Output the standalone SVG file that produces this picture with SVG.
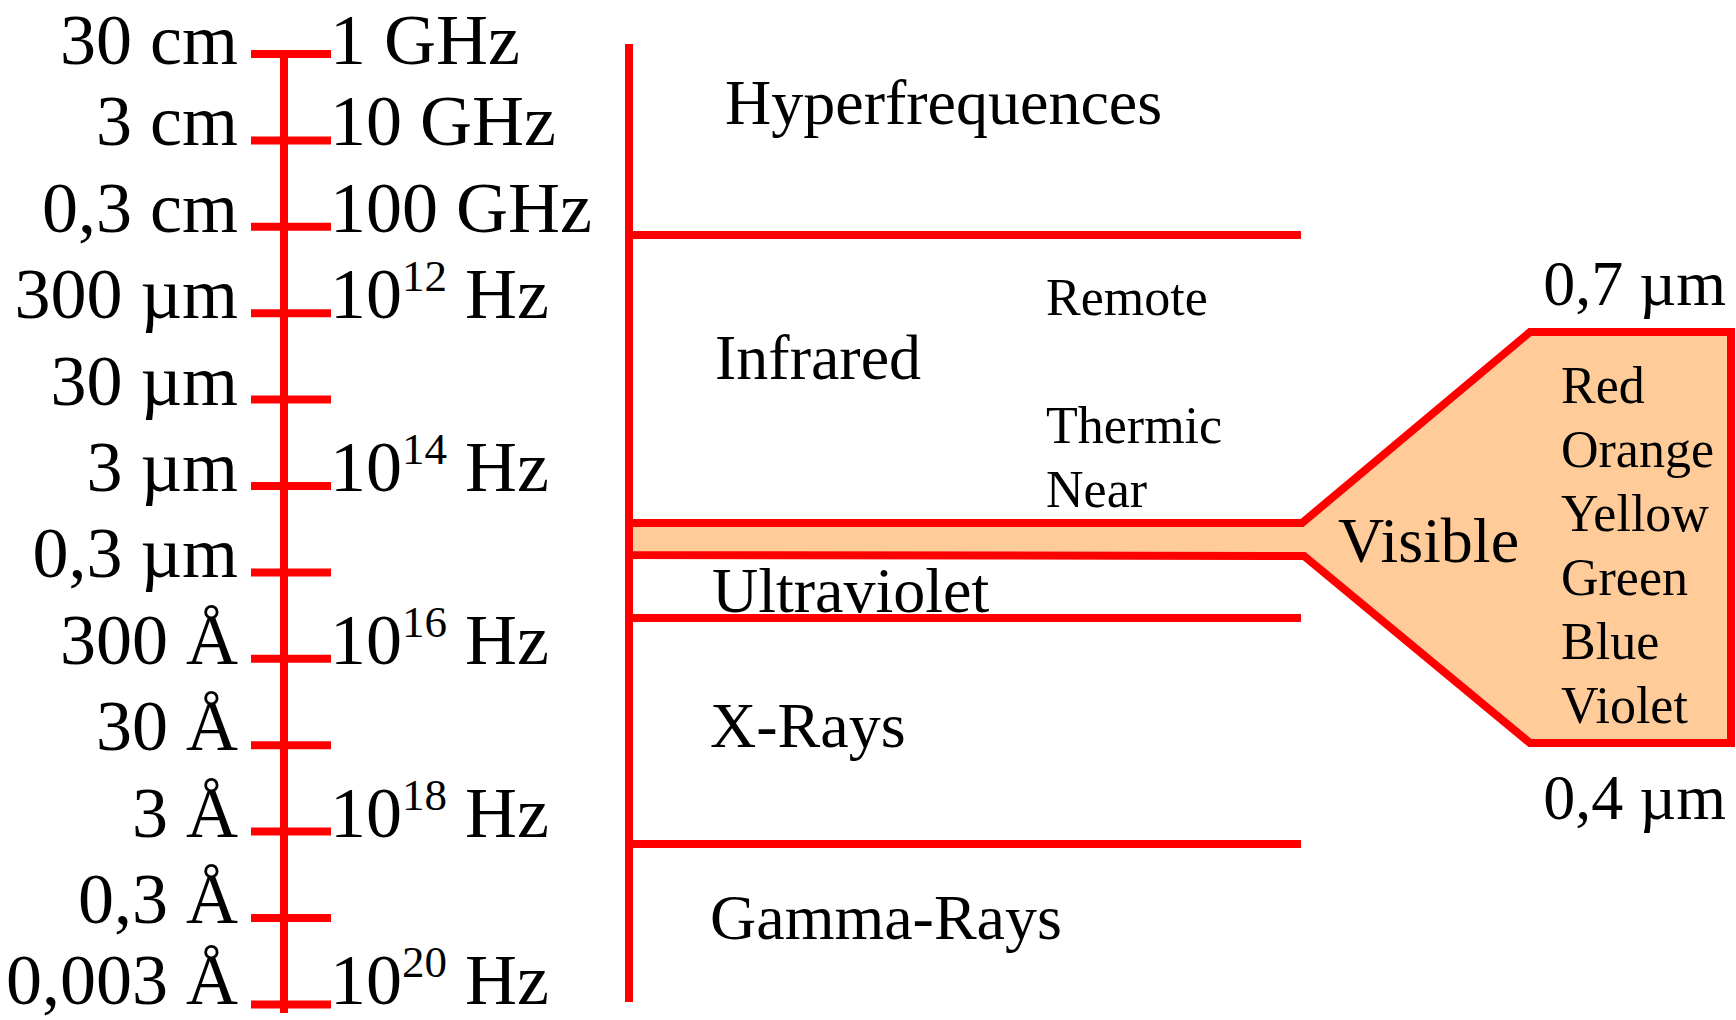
<svg xmlns="http://www.w3.org/2000/svg" width="1736" height="1020" viewBox="0 0 1736 1020">
<style>
.t{font-family:"Liberation Serif","Times New Roman",serif;fill:#000}
.s{font-size:72px}
.b{font-size:64px}
.m{font-size:52px}
.r{stroke:#FF0000;stroke-width:8;fill:none}
.sup{font-size:45px}
</style>
<rect width="1736" height="1020" fill="#fff"/>
<g id="connectors">
  <line class="r" x1="284" y1="54" x2="284" y2="1013"/>
  <g id="ticks">
    <line class="r" x1="251" y1="54" x2="331" y2="54"/>
    <line class="r" x1="251" y1="140.4" x2="331" y2="140.4"/>
    <line class="r" x1="251" y1="226.8" x2="331" y2="226.8"/>
    <line class="r" x1="251" y1="313.2" x2="331" y2="313.2"/>
    <line class="r" x1="251" y1="399.6" x2="331" y2="399.6"/>
    <line class="r" x1="251" y1="486" x2="331" y2="486"/>
    <line class="r" x1="251" y1="572.4" x2="331" y2="572.4"/>
    <line class="r" x1="251" y1="658.8" x2="331" y2="658.8"/>
    <line class="r" x1="251" y1="745.2" x2="331" y2="745.2"/>
    <line class="r" x1="251" y1="831.6" x2="331" y2="831.6"/>
    <line class="r" x1="251" y1="918" x2="331" y2="918"/>
    <line class="r" x1="251" y1="1004.4" x2="331" y2="1004.4"/>
  </g>
  <line class="r" x1="629" y1="44" x2="629" y2="1002"/>
  <line class="r" x1="629" y1="235" x2="1301" y2="235"/>
  <line class="r" x1="629" y1="618" x2="1301" y2="618"/>
  <line class="r" x1="629" y1="844" x2="1301" y2="844"/>
</g>
<g id="visible">
  <path d="M629,523 L1302,523 L1530,332 L1731,332 L1731,743 L1530,743 L1304,556 L629,555 Z" fill="#FFCC99" stroke="#FF0000" stroke-width="8" stroke-linejoin="miter"/>
  <line class="r" x1="629" y1="519" x2="629" y2="559"/>
  <text class="t" x="1338" y="562" font-size="64">Visible</text>
  <text class="t m" x="1561" y="403">Red</text>
  <text class="t m" x="1561" y="467">Orange</text>
  <text class="t m" x="1561" y="531">Yellow</text>
  <text class="t m" x="1561" y="595">Green</text>
  <text class="t m" x="1561" y="659">Blue</text>
  <text class="t m" x="1561" y="723">Violet</text>
  <text class="t" x="1726" y="305" font-size="64" text-anchor="end">0,7 µm</text>
  <text class="t" x="1726" y="819" font-size="64" text-anchor="end">0,4 µm</text>
</g>
<g id="wavelengths" text-anchor="end">
  <text class="t s" x="238" y="64">30 cm</text>
  <text class="t s" x="238" y="145">3 cm</text>
  <text class="t s" x="238" y="232">0,3 cm</text>
  <text class="t s" x="238" y="318">300 µm</text>
  <text class="t s" x="238" y="405">30 µm</text>
  <text class="t s" x="238" y="491">3 µm</text>
  <text class="t s" x="238" y="577">0,3 µm</text>
  <text class="t s" x="238" y="664">300 Å</text>
  <text class="t s" x="238" y="750">30 Å</text>
  <text class="t s" x="238" y="837">3 Å</text>
  <text class="t s" x="238" y="923">0,3 Å</text>
  <text class="t s" x="238" y="1004">0,003 Å</text>
</g>
<g id="frequencies">
  <text class="t s" x="330" y="64">1 GHz</text>
  <text class="t s" x="330" y="145">10 GHz</text>
  <text class="t s" x="330" y="232">100 GHz</text>
  <text class="t s" x="330" y="318">10<tspan class="sup" dy="-27">12</tspan><tspan dy="27"> Hz</tspan></text>
  <text class="t s" x="330" y="491">10<tspan class="sup" dy="-27">14</tspan><tspan dy="27"> Hz</tspan></text>
  <text class="t s" x="330" y="664">10<tspan class="sup" dy="-27">16</tspan><tspan dy="27"> Hz</tspan></text>
  <text class="t s" x="330" y="837">10<tspan class="sup" dy="-27">18</tspan><tspan dy="27"> Hz</tspan></text>
  <text class="t s" x="330" y="1004">10<tspan class="sup" dy="-27">20</tspan><tspan dy="27"> Hz</tspan></text>
</g>
<g id="bands">
  <text class="t b" x="725" y="124">Hyperfrequences</text>
  <text class="t b" x="715" y="379">Infrared</text>
  <text class="t m" x="1046" y="315">Remote</text>
  <text class="t m" x="1046" y="443">Thermic</text>
  <text class="t m" x="1046" y="507">Near</text>
  <text class="t b" x="712" y="612">Ultraviolet</text>
  <text class="t b" x="710" y="747">X-Rays</text>
  <text class="t b" x="710" y="939">Gamma-Rays</text>
</g>
</svg>
